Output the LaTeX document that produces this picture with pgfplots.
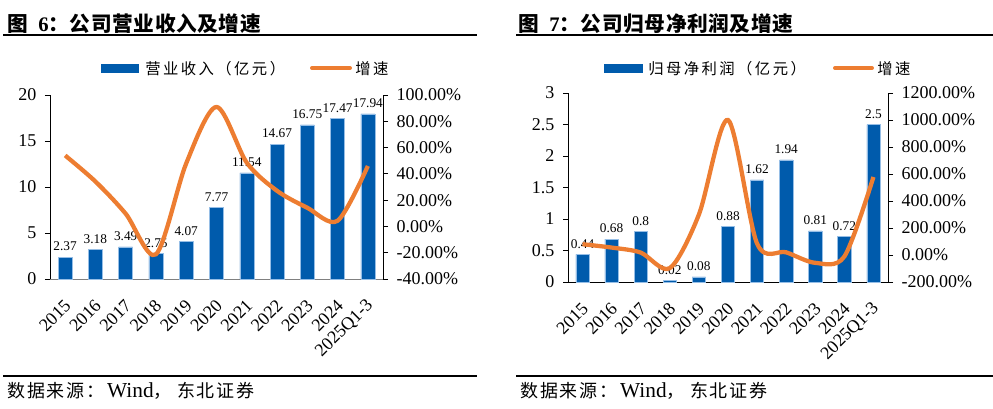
\documentclass[border=0pt]{standalone}
\usepackage{pgfplots}
\pgfplotsset{compat=1.18}
\usepackage{fontspec}
\setmainfont{Liberation Serif}
\newfontfamily\cjk{Noto Sans CJK SC}
\newfontfamily\cjksp[LetterSpace=16]{Noto Sans CJK SC}
\newfontfamily\cjksrc[LetterSpace=10]{Noto Sans CJK SC}
\newfontfamily\cjkti[LetterSpace=3]{Noto Sans CJK SC}

\definecolor{barblue}{RGB}{0,91,172}
\definecolor{barrim}{RGB}{150,190,230}
\definecolor{lineorange}{RGB}{237,125,49}

\pgfplotsset{
  every axis/.append style={
    /pgf/number format/assume math mode=true,
    /pgf/number format/fixed,
    scale only axis,
    xmin=-0.5, xmax=10.5,
    tick label style={font=\fontsize{13.5}{13.5}\selectfont},
    major tick length=3.75pt,
    tick align=outside,
    axis line style={line width=0.6pt},
    tick style={line width=0.6pt, black},
  },
  barax/.style={
    ybar, bar width=#1,
    axis x line*=bottom, axis y line*=left,
    xtick={0,...,10},
    xticklabels={2015,2016,2017,2018,2019,2020,2021,2022,2023,2024,2025Q1-3},
    x tick style={draw=none},
    xticklabel style={yshift=-14pt, xshift=2pt, rotate=45, anchor=east, inner sep=0pt},
    yticklabel style={xshift=-3pt},
    nodes near coords={\pgfmathprintnumber[fixed,precision=2,assume math mode=true]{\pgfplotspointmeta}},
    every node near coord/.append style={font=\fontsize{10}{10}\selectfont, black, yshift=1pt},
  },
  lineax/.style={
    axis x line=none, axis y line*=right,
    yticklabel style={xshift=3pt},
  },
}

\begin{document}
\begin{tikzpicture}
% frame, titles, legends, sources
\begin{scope}[x=0.75pt, y=-0.75pt]
  \path[use as bounding box] (0,0) rectangle (993,408);
  % left panel
  \node[anchor=west, inner sep=0] at (7,23.5)
    {\fontsize{15.5}{15.5}\selectfont\bfseries{\cjkti 图}\ \ 6{\cjkti ：公司营业收入及增速}};
  \draw[line width=0.8pt] (3,35) -- (477,35);
  \fill[barblue] (101,64) rectangle (139,73);
  \node[anchor=west, inner sep=0] at (145,68.5)
    {\cjksp\fontsize{11.5}{11.5}\selectfont 营业收入（亿元）};
  \draw[lineorange, line width=3pt, line cap=round] (312,68) -- (350,68);
  \node[anchor=west, inner sep=0] at (355,68.5)
    {\cjksp\fontsize{11.5}{11.5}\selectfont 增速};
  \draw[line width=0.8pt] (3,376) -- (477,376);
  \node[anchor=west, inner sep=0] at (7,391)
    {\fontsize{13.5}{13.5}\selectfont{\cjksrc 数据来源：}\hspace{2pt}{\fontsize{16}{16}\selectfont Wind}{\cjksrc ，}\hspace{4pt}{\cjksrc 东北证券}};
  % right panel
  \node[anchor=west, inner sep=0] at (518,23.5)
    {\fontsize{15.5}{15.5}\selectfont\bfseries{\cjkti 图}\ \ 7{\cjkti ：公司归母净利润及增速}};
  \draw[line width=0.8pt] (516,35) -- (993,35);
  \fill[barblue] (604,64) rectangle (643,73);
  \node[anchor=west, inner sep=0] at (648,68.5)
    {\cjksp\fontsize{11.5}{11.5}\selectfont 归母净利润（亿元）};
  \draw[lineorange, line width=3pt, line cap=round] (835,68) -- (872,68);
  \node[anchor=west, inner sep=0] at (877,68.5)
    {\cjksp\fontsize{11.5}{11.5}\selectfont 增速};
  \draw[line width=0.8pt] (516,376) -- (993,376);
  \node[anchor=west, inner sep=0] at (520,391)
    {\fontsize{13.5}{13.5}\selectfont{\cjksrc 数据来源：}\hspace{2pt}{\fontsize{16}{16}\selectfont Wind}{\cjksrc ，}\hspace{4pt}{\cjksrc 东北证券}};
\end{scope}

% ---------- left: revenue ----------
\begin{axis}[barax=10.5pt, at={(37.5pt,-209.25pt)}, anchor=south west,
  width=249.75pt, height=138pt,
  ymin=0, ymax=20, ytick={0,5,10,15,20},
  x axis line style={gray}]
\addplot[fill=barblue, draw=barrim, line width=0.4pt] coordinates {
  (0,2.37) (1,3.18) (2,3.49) (3,2.75) (4,4.07) (5,7.77)
  (6,11.54) (7,14.67) (8,16.75) (9,17.47) (10,17.94)};
\end{axis}
\begin{axis}[lineax, at={(37.5pt,-209.25pt)}, anchor=south west,
  width=249.75pt, height=138pt,
  ymin=-40, ymax=100, ytick={-40,-20,0,20,40,60,80,100},
  yticklabels={-40.00\%,-20.00\%,0.00\%,20.00\%,40.00\%,60.00\%,80.00\%,100.00\%}]
\addplot[lineorange, line width=3.2pt, smooth, tension=0.5] coordinates {
  (0,54) (1,34.2) (2,9.7) (3,-21.2) (4,48.0) (5,90.9)
  (6,48.5) (7,27.1) (8,14.2) (9,4.3) (10,46)};
\end{axis}

% ---------- right: net profit ----------
\begin{axis}[barax=10pt, at={(426pt,-211.5pt)}, anchor=south west,
  width=240pt, height=141.75pt,
  ymin=0, ymax=3, ytick={0,0.5,1,1.5,2,2.5,3}]
\addplot[fill=barblue, draw=barrim, line width=0.4pt] coordinates {
  (0,0.44) (1,0.68) (2,0.8) (3,0.02) (4,0.08) (5,0.88)
  (6,1.62) (7,1.94) (8,0.81) (9,0.72) (10,2.5)};
\end{axis}
\begin{axis}[lineax, at={(426pt,-211.5pt)}, anchor=south west,
  width=240pt, height=141.75pt,
  ymin=-200, ymax=1200, ytick={-200,0,200,400,600,800,1000,1200},
  yticklabels={-200.00\%,0.00\%,200.00\%,400.00\%,600.00\%,800.00\%,1000.00\%,1200.00\%}]
\addplot[lineorange, line width=3.2pt, smooth, tension=0.5] coordinates {
  (0,80) (1,55) (2,18) (3,-97) (4,300) (5,1000)
  (6,84) (7,20) (8,-58) (9,-11) (10,578)};
\end{axis}
\end{tikzpicture}
\end{document}
